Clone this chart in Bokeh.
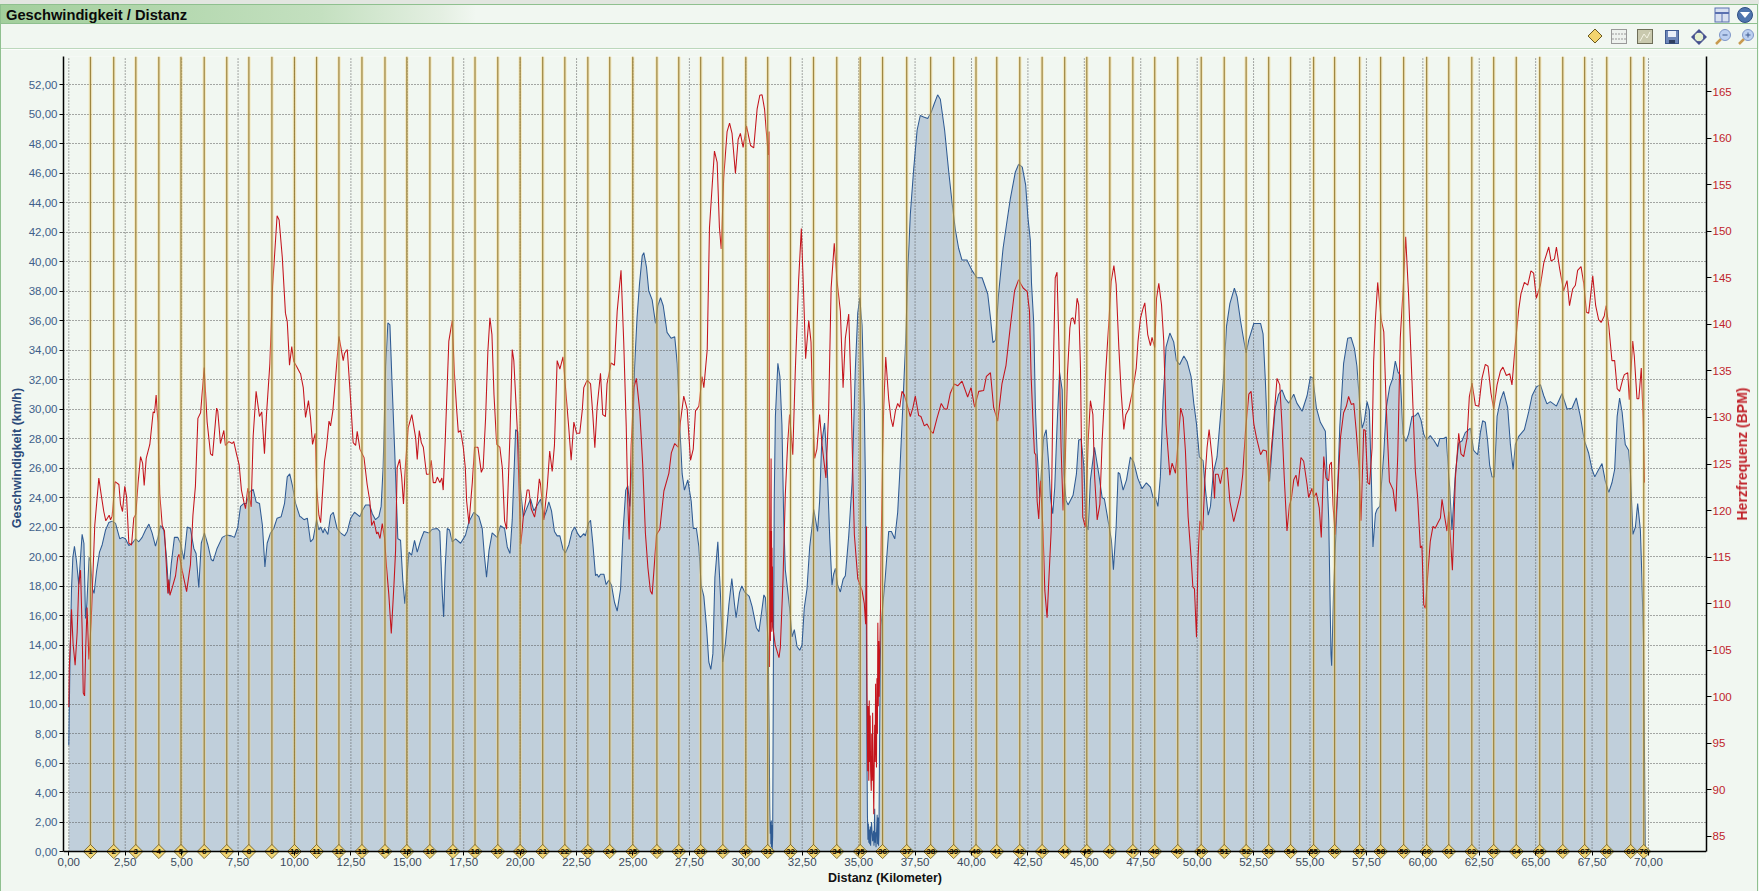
import math
from bokeh.embed import file_html
from bokeh.resources import INLINE
from bokeh.plotting import figure
from bokeh.layouts import column
from bokeh.core.properties import value
from bokeh.models import LinearAxis, Range1d, FixedTicker, Div

# ---------- data ----------
title_text = "Geschwindigkeit / Distanz"
x_label = "Distanz (Kilometer)"
y_label = "Geschwindigkeit (km/h)"
y2_label = "Herzfrequenz (BPM)"
x_ticks = [0, 2.5, 5, 7.5, 10, 12.5, 15, 17.5, 20, 22.5, 25, 27.5, 30, 32.5, 35, 37.5, 40, 42.5, 45, 47.5, 50, 52.5, 55, 57.5, 60, 62.5, 65, 67.5, 70]
y_ticks = [0, 2, 4, 6, 8, 10, 12, 14, 16, 18, 20, 22, 24, 26, 28, 30, 32, 34, 36, 38, 40, 42, 44, 46, 48, 50, 52]
y2_ticks = [85, 90, 95, 100, 105, 110, 115, 120, 125, 130, 135, 140, 145, 150, 155, 160, 165]
lap_numbers = list(range(1, 71))
lap_km = [0.96,1.99,2.97,3.99,4.97,6.0,7.0,7.98,9.0,10.0,10.98,11.97,12.99,14.01,14.98,16.0,17.02,18.0,19.01,20.0,
          21.0,21.98,23.0,23.97,24.99,26.06,27.03,28.0,28.98,30.0,30.97,31.98,33.0,34.03,35.07,36.06,37.13,38.19,39.21,40.2,
          41.12,42.14,43.13,44.13,45.11,46.13,47.15,48.12,49.14,50.18,51.2,52.17,53.17,54.14,55.16,56.09,57.2,58.13,59.15,60.17,
          61.15,62.17,63.14,64.14,65.18,66.2,67.17,68.15,69.21,69.79]

speed_a = [(0.00,7.2),(0.05,12.7),(0.12,17.8),(0.18,19.95),(0.25,20.7),(0.34,19.7),(0.44,18.1),(0.52,19.95),(0.59,21.5),(0.67,20.9),(0.74,15.8),(0.80,16.8),(0.90,19.95),(0.96,19.7),(1.05,17.8),(1.12,17.5),(1.23,19.0),(1.36,20.3),(1.48,20.8),(1.63,21.8),(1.77,22.3),(1.92,22.4),(2.07,22.25),(2.26,21.2),(2.38,21.3),(2.51,21.2),(2.66,20.75),(2.81,20.9),(2.96,21.2),(3.10,21.0),(3.25,21.3),(3.40,21.8),(3.55,22.2),(3.69,21.6),(3.84,20.7),(3.95,21.3),(4.06,22.1),(4.21,21.8),(4.33,19.95),(4.43,17.5),(4.54,19.5),(4.68,21.3),(4.83,21.3),(4.95,20.9),(5.10,19.8),(5.25,22.0),(5.39,21.9),(5.54,20.55),(5.64,20.2),(5.76,17.9),(5.87,20.9),(6.01,21.6),(6.16,20.8),(6.31,19.8),(6.40,19.7),(6.57,20.55),(6.80,21.3),(6.99,21.45),(7.20,21.4),(7.34,21.3),(7.49,22.0),(7.61,23.4),(7.76,23.6),(7.87,23.6),(8.02,24.4),(8.17,24.55),(8.30,23.7),(8.45,23.6),(8.58,22.1),(8.69,19.3),(8.79,20.9),(8.94,21.6),(9.08,21.9),(9.23,22.6),(9.41,22.7),(9.56,23.6),(9.68,25.4),(9.79,25.6),(9.91,24.8),(10.05,23.6),(10.24,22.7)]
speed_b = [(10.27,22.7),(10.42,22.5),(10.57,22.6),(10.71,21.0),(10.83,21.2),(10.98,22.5),(11.08,21.8),(11.16,22.0),(11.27,21.6),(11.33,21.9),(11.48,21.5),(11.60,22.8),(11.72,23.0),(11.89,21.9),(12.04,21.6),(12.22,21.4),(12.34,21.7),(12.49,22.6),(12.66,23.0),(12.90,22.7),(13.00,23.1),(13.15,23.5),(13.33,23.5),(13.45,22.9),(13.59,22.5),(13.74,22.7),(13.84,23.4),(13.93,26.1),(14.04,32.9),(14.14,35.85),(14.23,35.7),(14.33,31.5),(14.44,27.2),(14.52,23.8),(14.58,21.2),(14.70,21.1),(14.80,18.4),(14.89,16.8),(15.07,20.3),(15.19,20.1),(15.32,21.1),(15.44,20.3),(15.59,21.1),(15.74,21.7),(15.96,21.6),(16.10,21.85),(16.33,21.9),(16.44,21.7),(16.55,17.5),(16.61,15.9),(16.68,19.3),(16.77,21.9),(16.87,21.8),(16.99,21.0),(17.14,21.2),(17.36,20.9),(17.58,21.45),(17.73,22.35),(17.95,23.0),(18.17,22.7),(18.32,21.9),(18.42,20.0),(18.51,18.6),(18.62,20.4),(18.76,21.6),(18.98,21.3),(19.13,22.1),(19.31,21.9),(19.43,20.65),(19.55,20.2),(19.65,22.5),(19.80,28.6),(19.90,28.45),(19.99,24.95),(20.14,22.7),(20.46,23.9),(20.61,23.1),(20.76,23.5),(20.91,23.9)]
speed_c = [(21.05,22.6),(21.17,23.1),(21.27,23.7),(21.39,23.1),(21.52,21.7),(21.64,21.4),(21.76,21.4),(21.90,20.5),(22.01,20.25),(22.16,20.8),(22.30,21.7),(22.42,22.0),(22.55,21.55),(22.67,21.3),(22.82,21.55),(22.89,21.4),(23.04,22.3),(23.12,22.45),(23.22,20.9),(23.34,18.7),(23.41,18.8),(23.48,18.6),(23.56,18.8),(23.71,18.8),(23.81,18.1),(23.93,18.4),(24.05,18.05),(24.18,16.9),(24.30,16.3),(24.45,17.8),(24.56,21.7),(24.68,24.5),(24.77,24.8),(24.86,23.4),(24.96,26.35),(25.07,32.8),(25.18,36.2),(25.29,38.5),(25.41,40.4),(25.48,40.6),(25.60,39.6),(25.70,38.0),(25.85,37.4),(26.00,35.8),(26.10,37.0),(26.22,37.55),(26.34,37.0),(26.51,35.2),(26.69,34.8),(26.85,34.9),(26.96,33.1),(27.07,28.95),(27.18,25.6),(27.28,24.5),(27.43,25.2),(27.58,23.75),(27.67,21.9),(27.81,21.9),(27.92,20.65),(28.02,18.05),(28.14,17.3),(28.26,15.2),(28.36,12.85),(28.45,12.35),(28.54,13.4),(28.63,18.6),(28.76,21.0),(28.88,17.3),(28.98,12.85),(29.10,14.15),(29.25,16.75),(29.38,18.5),(29.50,16.75),(29.57,15.85),(29.72,17.55),(29.82,18.0),(29.97,17.55),(30.15,17.3),(30.28,16.6),(30.47,15.15),(30.58,14.9),(30.68,16.0),(30.80,17.4),(30.87,17.2),(30.99,14.15)]
speed_d = [(31.03,9),(31.06,3),(31.08,1.2),(31.10,2.0),(31.11,0.5),(31.13,2.1),(31.14,0.3),(31.16,1.8),(31.17,0.1),(31.19,1.0),(31.22,12),(31.26,24),(31.31,29.5),(31.42,33.1),(31.51,32.2),(31.60,28.95),(31.68,22.45),(31.75,19.1),(31.83,18.05),(31.94,16.5),(32.05,14.55),(32.15,15.05),(32.27,13.9),(32.39,13.65),(32.49,14.0),(32.59,16.5),(32.71,17.8),(32.83,20.65),(32.93,21.95),(33.01,23.2),(33.18,21.7),(33.27,23.75),(33.36,27.65),(33.49,29.05),(33.60,26.35),(33.72,21.2),(33.82,18.05),(33.89,18.8),(33.97,19.2),(34.07,18.05),(34.19,17.6),(34.31,18.45),(34.41,18.7),(34.56,21.4),(34.71,25.05),(34.85,32.6),(34.96,36.5),(35.05,37.55),(35.15,35.7),(35.25,30.2),(35.30,25.05),(35.34,16),(35.37,6),(35.39,2.4),(35.41,0.8),(35.43,1.9),(35.45,0.6),(35.47,1.5),(35.49,0.5),(35.51,1.7),(35.53,0.4),(35.55,1.2),(35.57,2.0),(35.62,0.7),(35.66,1.4),(35.68,0.4),(35.71,2.9),(35.73,0.6),(35.75,1.3),(35.77,0.3),(35.80,1.6),(35.82,2.5),(35.84,0.5),(35.86,2.3),(35.88,0.4),(35.90,1.2),(35.93,8),(35.96,13),(35.99,15.3)]
speed_e = [(36.18,18.6),(36.33,21.7),(36.45,21.7),(36.60,21.2),(36.73,23.0),(36.82,25.6),(36.92,28.95),(37.07,34.1),(37.19,39.8),(37.29,43.2),(37.44,46.3),(37.59,48.9),(37.73,49.9),(37.88,49.8),(38.06,49.7),(38.21,50.1),(38.35,50.7),(38.50,51.3),(38.62,51.0),(38.81,48.9),(38.99,46.1),(39.14,44.0),(39.28,42.2),(39.43,40.9),(39.58,40.1),(39.80,40.1),(40.02,39.4),(40.24,38.9),(40.47,38.9),(40.72,37.8),(40.84,36.2),(40.95,34.5),(41.06,34.65),(41.20,37.8),(41.40,40.9),(41.57,42.7),(41.72,44.25),(41.94,46.05),(42.09,46.6),(42.25,46.4),(42.40,45.2),(42.50,43.0),(42.61,41.4),(42.66,38.5),(42.76,35.8),(42.83,30.1),(42.91,27.0),(43.03,24.0),(43.09,25.6),(43.20,28.1),(43.31,28.6),(43.43,26.1),(43.50,24.0),(43.60,22.9),(43.69,24.7),(43.79,28.8),(43.90,32.5),(44.02,31.3),(44.09,25.6),(44.19,23.8),(44.28,23.5),(44.50,24.15),(44.65,25.6),(44.75,27.9),(44.86,27.95),(44.98,26.1),(45.08,22.2),(45.17,21.8),(45.27,25.2),(45.45,27.4),(45.64,25.6),(45.79,24.0),(45.89,23.9),(46.08,22.2),(46.20,21.1),(46.29,19.1),(46.41,22.0),(46.50,25.7),(46.57,25.6),(46.72,24.5),(46.87,25.2),(47.04,26.75),(47.19,26.4),(47.37,25.3),(47.56,24.6),(47.75,25.0),(47.93,24.7),(48.05,24.0),(48.15,24.0),(48.26,23.4),(48.37,25.4),(48.49,30.6),(48.62,34.2),(48.79,35.15),(48.96,34.55),(49.08,33.3),(49.22,33.0),(49.41,33.6),(49.56,33.2),(49.73,32.2),(49.85,30.4),(49.97,29.0),(50.10,26.75),(50.26,26.5),(50.37,24.5),(50.49,22.8),(50.59,23.4),(50.71,25.6),(50.88,26.75),(51.03,29.45),(51.18,32.4),(51.30,35.6),(51.45,37.15),(51.65,38.2),(51.77,37.6),(51.92,36.0),(52.04,34.9),(52.17,33.8),(52.29,34.7),(52.51,35.8),(52.81,35.8)]
speed_f = [(52.92,35.1),(53.02,32.0),(53.12,28.1),(53.21,25.1),(53.32,27.4),(53.46,30.1),(53.61,31.0),(53.76,31.3),(53.91,30.7),(54.06,30.4),(54.28,31.0),(54.42,30.4),(54.65,29.85),(54.87,30.9),(55.02,32.2),(55.13,32.1),(55.28,30.1),(55.46,29.1),(55.68,28.5),(55.83,22.5),(55.93,13.4),(55.96,12.6),(56.05,17.9),(56.20,23.6),(56.32,28.8),(56.49,33.1),(56.67,34.8),(56.82,34.85),(56.97,34.1),(57.08,32.9),(57.20,30.4),(57.31,28.7),(57.41,29.2),(57.53,30.5),(57.63,29.9),(57.72,25.2),(57.79,20.65),(57.90,22.9),(57.97,23.2),(58.09,23.4),(58.27,27.0),(58.38,30.1),(58.53,31.5),(58.66,32.05),(58.78,33.25),(58.90,32.5),(59.00,32.3),(59.12,28.3),(59.25,27.8),(59.37,28.3),(59.52,29.5),(59.67,29.55),(59.79,29.75),(59.92,29.25),(60.04,28.3),(60.16,27.9),(60.33,28.2),(60.48,27.9),(60.66,27.45),(60.75,28.0),(60.92,28.0),(61.04,28.1),(61.15,25.4),(61.19,24.7),(61.29,21.8),(61.44,25.6),(61.59,27.7),(61.74,27.85),(61.88,28.4),(62.11,28.7),(62.25,27.2),(62.43,26.9),(62.55,28.4),(62.65,29.2),(62.77,29.1),(62.87,27.85),(62.96,26.2),(63.07,25.4),(63.17,25.4),(63.29,29.5),(63.44,30.6),(63.58,31.2),(63.76,30.1),(63.88,27.6),(64.00,25.9),(64.10,27.6),(64.25,28.15),(64.50,28.6),(64.69,29.8),(64.84,30.9),(65.03,31.5),(65.21,31.65),(65.36,30.9),(65.50,30.35),(65.65,30.5),(65.92,30.2),(66.17,31.05),(66.39,30.0),(66.61,30.05),(66.80,30.75),(66.98,29.5),(67.16,27.85),(67.35,27.0),(67.50,25.9),(67.62,25.4),(67.79,25.9),(67.94,26.3),(68.09,25.1),(68.24,24.35),(68.38,25.0),(68.50,25.9),(68.61,29.5),(68.72,30.75),(68.83,29.8),(68.97,27.6),(69.12,27.2),(69.20,25.65),(69.31,21.5),(69.42,22.0),(69.52,23.6),(69.64,21.8),(69.71,18.45),(69.78,14.0),(69.86,0.0)]

hr_a = [(0.00,98.9),(0.02,103),(0.08,106.5),(0.12,109.4),(0.19,105.7),(0.28,103.4),(0.37,106.9),(0.44,112),(0.52,113.6),(0.59,107.3),(0.64,100.4),(0.70,100.1),(0.75,105.3),(0.81,109.6),(0.89,104),(0.99,108),(1.15,118.4),(1.33,123.5),(1.43,121.8),(1.55,119.9),(1.64,118.9),(1.79,119.5),(1.85,119),(1.92,119.4),(2.05,123.1),(2.22,122.8),(2.29,120.7),(2.38,119.9),(2.48,122.6),(2.56,121.5),(2.66,116.5),(2.78,116.3),(2.88,119.2),(2.97,119.6),(3.07,123),(3.18,125.8),(3.27,125.1),(3.34,122.7),(3.43,125.6),(3.59,127.1),(3.74,130.6),(3.80,130.5),(3.87,132.4),(3.95,129.5),(4.03,121.8),(4.14,118.4),(4.24,117.8),(4.39,111.1),(4.43,112.6),(4.48,110.9),(4.58,111.7),(4.73,113),(4.83,115),(4.89,115.3),(5.02,113.6),(5.22,111.3),(5.39,114.2),(5.50,119.5),(5.61,122.6),(5.72,129.9),(5.84,130.5),(6.00,135.35),(6.13,129.5),(6.28,126.1),(6.37,125.9),(6.55,131),(6.60,130.7),(6.72,127.2),(6.87,128.6),(6.94,127),(7.09,127.4),(7.24,127.2),(7.31,127.4),(7.43,126.1),(7.55,124.9),(7.65,122.2),(7.76,120.9),(7.83,120.2),(7.93,122.4),(8.08,120.4),(8.17,128),(8.30,132.8),(8.45,130.1),(8.55,130.6),(8.67,126.1),(8.76,130.3),(8.91,135.8),(9.03,144.1),(9.23,151.65),(9.32,151.2),(9.46,147.2),(9.60,141.2),(9.68,140.3),(9.78,135.6),(9.88,137.6),(9.97,136),(10.09,135.5),(10.24,134.8)]
hr_b = [(10.27,134.7),(10.39,133.2),(10.49,130),(10.62,131.8),(10.71,130),(10.80,127.1),(10.92,128.3),(10.98,122.5),(11.08,119.5),(11.16,118.7),(11.33,125.3),(11.42,126.8),(11.53,129.6),(11.60,129.1),(11.70,130.7),(11.97,138.7),(12.16,136.1),(12.22,136.9),(12.34,137.3),(12.49,131.8),(12.60,127.3),(12.71,127),(12.78,128.5),(12.90,126.6),(13.08,125.7),(13.22,122.8),(13.34,121),(13.42,118.4),(13.52,118.9),(13.64,117.5),(13.70,117.7),(13.79,117),(13.89,118.6),(13.99,117.1),(14.08,113.9),(14.18,111),(14.29,106.8),(14.41,112.1),(14.48,115.7),(14.55,124.6),(14.66,125.5),(14.75,123.6),(14.83,120.7),(14.92,125),(15.04,128.9),(15.20,130.3),(15.37,127.8),(15.44,125.5),(15.53,128.6),(15.62,127.3),(15.71,126.8),(15.85,123.9),(15.97,123.9),(16.06,125.4),(16.15,123),(16.25,123),(16.33,123.6),(16.44,123),(16.53,123.5),(16.59,122.2),(16.68,127.5),(16.84,138.2),(16.99,140.4),(17.09,134.6),(17.18,131.1),(17.26,128.4),(17.36,128.6),(17.48,126.8),(17.57,124.6),(17.63,121),(17.73,118.6),(17.88,123),(17.98,126.8),(18.13,126.8),(18.28,124.1),(18.36,124.6),(18.47,130),(18.57,137.1),(18.66,140.7),(18.75,138.9),(18.84,132.5),(18.96,127.1),(19.10,126.8),(19.21,124.6),(19.31,118.9),(19.40,118),(19.55,128.2),(19.65,137.3),(19.72,136.1),(19.87,128.9),(19.97,121),(20.03,116.4),(20.14,119.3),(20.31,122.2),(20.39,122.2),(20.49,120.2),(20.64,119.3),(20.76,121),(20.85,123.4)]
hr_c = [(20.90,122.9),(21.05,119),(21.20,122.5),(21.31,126.4),(21.42,124.2),(21.52,127),(21.64,136.1),(21.76,135.2),(21.90,136.5),(22.05,132),(22.16,128.7),(22.26,125.4),(22.38,129.5),(22.50,128.3),(22.64,128.3),(22.75,130.7),(22.82,133.2),(22.97,134),(23.12,133.6),(23.22,130.3),(23.31,126.75),(23.41,131.1),(23.56,134.75),(23.66,130.3),(23.78,130.1),(23.85,133.6),(24.03,135.85),(24.18,135.6),(24.30,141.4),(24.47,145.8),(24.59,138.1),(24.70,129.1),(24.77,120.9),(24.83,116.9),(24.92,127),(25.04,133.2),(25.15,134.2),(25.30,130.7),(25.43,125),(25.55,117.6),(25.66,113.9),(25.77,111.4),(25.85,111),(25.95,114.3),(26.04,117.4),(26.19,118),(26.37,122.1),(26.59,124),(26.70,126.2),(26.85,127.2),(27.00,126.8),(27.10,129.5),(27.25,132.3),(27.40,130.9),(27.55,125.4),(27.67,126.6),(27.77,130.7),(27.92,131.2),(28.06,134.4),(28.14,133.2),(28.29,137.3),(28.39,150.4),(28.51,154.9),(28.61,158.6),(28.73,157.4),(28.83,150.4),(28.91,148.1),(29.02,155.75),(29.17,160.7),(29.28,161.6),(29.39,160.5),(29.54,156.2),(29.66,159.85),(29.76,160.5),(29.88,159),(30.03,161.3),(30.21,159.2),(30.35,158.95),(30.50,163.1),(30.62,164.6),(30.72,164.65),(30.83,163.1),(30.99,158.2),(31.03,160.7)]
hr_d = [(31.05,103.2),(31.07,117.8),(31.09,106),(31.10,117),(31.12,125.6),(31.13,108),(31.14,117.8),(31.15,107),(31.16,116),(31.17,108.5),(31.18,114),(31.20,107.5),(31.30,105.6),(31.47,104.2),(31.53,105.3),(31.65,112.7),(31.75,121.7),(31.85,127),(31.94,130.3),(32.08,126),(32.19,134.8),(32.34,144.7),(32.46,150.3),(32.56,143.4),(32.65,136.3),(32.79,140.4),(32.89,138.1),(32.96,131.1),(33.05,125.6),(33.15,126.6),(33.27,130.3),(33.38,127),(33.55,123.5),(33.67,130.7),(33.78,143.9),(33.92,148.7),(34.04,144.7),(34.19,141.4),(34.31,133.2),(34.41,138.5),(34.56,141.1),(34.66,133.2),(34.75,122.9),(34.81,117.4),(34.96,112.7),(35.15,111.4),(35.25,110),(35.31,107.8),(35.35,118.3),(35.37,100.6),(35.40,92),(35.42,99),(35.45,91),(35.47,99.6),(35.49,93),(35.51,98),(35.53,92),(35.56,89.9),(35.58,96),(35.60,91),(35.62,98.3),(35.64,93),(35.67,87.4),(35.69,92.8),(35.71,97),(35.73,93),(35.75,101.4),(35.77,95),(35.79,92.4),(35.81,102),(35.83,96),(35.85,107.95),(35.87,99),(35.89,106),(35.91,100),(35.93,103.1),(35.95,107),(35.97,109.6)]
hr_e = [(36.00,116.8),(36.06,125.8),(36.11,131.1),(36.20,136.5),(36.33,132),(36.43,129.9),(36.52,129),(36.63,130.7),(36.73,131.5),(36.82,131.1),(36.92,132.8),(37.03,132.4),(37.22,130.7),(37.29,130.1),(37.41,131.1),(37.51,132.3),(37.66,130.2),(37.76,130.1),(37.91,129.1),(38.03,129.3),(38.21,128.5),(38.30,128.3),(38.47,129.9),(38.66,131.5),(38.80,130.9),(38.92,130.9),(39.06,132.6),(39.24,133.6),(39.39,133.4),(39.58,133.9),(39.83,132.2),(39.98,133.2),(40.14,131.1),(40.32,132.8),(40.54,132.9),(40.66,134.4),(40.84,134.8),(40.98,131.1),(41.16,129.6),(41.35,133.6),(41.53,135.6),(41.72,139.75),(41.91,143.6),(42.09,144.8)]
hr_f = [(42.17,144.4),(42.29,143.9),(42.47,143.5),(42.57,141.4),(42.64,134.6),(42.73,129.3),(42.79,126.2),(42.85,126),(42.91,121),(42.98,119.1),(43.06,123.2),(43.17,117.8),(43.25,111.4),(43.35,108.5),(43.44,113.2),(43.53,117.8),(43.62,134.6),(43.71,145),(43.79,145.6),(43.87,138.2),(43.97,126.8),(44.06,120),(44.16,125.7),(44.25,134.6),(44.36,139.6),(44.42,140.6),(44.50,140.7),(44.58,140),(44.68,142.8),(44.75,142.1),(44.83,135.3),(44.87,127.5),(44.93,119.3),(45.05,118.2),(45.17,127.5),(45.27,131.8),(45.38,130.3),(45.45,123.9),(45.57,119),(45.69,120.7),(45.79,127.5),(45.94,134.6),(46.08,140),(46.19,144.6),(46.31,146.3),(46.41,144.3),(46.53,137.5),(46.63,132.8),(46.75,128.7),(46.84,130.3),(46.97,130.9),(47.15,133),(47.30,135.3),(47.38,138.2),(47.49,140.7),(47.59,141.6),(47.68,142.3),(47.81,138.9),(47.93,137.7),(48.00,138.6),(48.12,137.5),(48.20,142.8),(48.30,144.4),(48.42,142.1),(48.52,138.2),(48.62,129.3),(48.79,123.8),(48.89,125.1),(49.04,124),(49.16,127.5),(49.27,131),(49.38,130),(49.48,126.4),(49.60,119.3),(49.73,115),(49.81,111.8),(49.88,111.6),(49.97,106.4),(50.04,115),(50.12,118.9),(50.25,117.9),(50.34,123.2),(50.44,126.8),(50.53,128.7),(50.66,125.7),(50.77,121.3),(50.81,123.9),(50.93,123.9),(51.03,122.9),(51.14,124.3),(51.33,124.6),(51.45,121),(51.62,118.8),(51.77,120.3),(51.92,121.8),(52.02,123.9),(52.14,128.5),(52.29,132.5),(52.39,132.8),(52.51,129.3),(52.63,127.8),(52.81,126)]
hr_g = [(52.92,126.5),(53.07,126.4),(53.18,123.1),(53.29,126.7),(53.39,129.6),(53.54,134.2),(53.66,133.5),(53.75,129.6),(53.86,123.5),(53.98,117.8),(54.09,120.6),(54.17,121.2),(54.28,123.3),(54.38,123.8),(54.47,122.6),(54.60,125.7),(54.72,125.3),(54.87,122.8),(54.94,121.4),(55.09,122.4),(55.16,121.4),(55.28,121.9),(55.41,120.3),(55.50,117.1),(55.61,125.8),(55.71,123.5),(55.83,123.2),(55.87,124.9),(55.95,125.2),(56.02,120.6),(56.11,117.4),(56.23,122.4),(56.35,127.8),(56.49,130.5),(56.61,131.2),(56.71,132.25),(56.83,131.4),(56.94,131.5),(57.05,128.5),(57.17,124.6),(57.26,118.9),(57.38,128.7),(57.45,128.6),(57.56,123),(57.64,122.8),(57.75,126.7),(57.82,136),(57.90,140.6),(58.00,144.5),(58.15,140.6),(58.27,139.2),(58.38,131),(58.52,123.1),(58.68,122.25),(58.80,119.9),(58.89,126),(59.00,138.5),(59.12,143.5),(59.24,149.4),(59.37,143.1),(59.52,133.9),(59.67,124.2),(59.77,121.4),(59.89,116),(59.96,116.2),(60.04,109.9),(60.11,109.5),(60.23,113.5),(60.33,116.7),(60.45,118.3),(60.55,118.1),(60.67,118.7),(60.78,119.2),(60.85,121.2),(60.95,119.6),(61.07,117.8),(61.15,119.9),(61.25,116),(61.31,113.6),(61.44,123.4),(61.59,128.3),(61.69,126.1),(61.81,125.8),(61.96,127.8),(62.06,132.2),(62.18,133.7),(62.33,131.3),(62.48,131.2),(62.62,134.2),(62.77,135.7),(62.89,135.5),(63.02,132.6),(63.14,130.9),(63.29,133.5),(63.44,135),(63.55,135.4),(63.70,134.5),(63.85,134.7),(63.95,133.5),(64.10,137.9),(64.25,141.6),(64.35,143.3),(64.50,144.5),(64.65,144.2),(64.79,145.75),(64.91,145.5),(65.03,142.8),(65.21,144.2),(65.36,146.6),(65.58,148.3),(65.68,146.8),(65.83,147),(65.92,148.3),(66.06,146),(66.24,143.6),(66.39,144.7),(66.50,142),(66.64,143.8),(66.76,144.2),(66.86,145.8),(67.01,146.2),(67.13,144.4),(67.25,141.3),(67.35,141.2),(67.53,145.2),(67.66,142),(67.79,140.5),(67.90,140.2),(68.04,140.9),(68.12,142),(68.24,139.8),(68.38,136.1),(68.50,136.1),(68.61,133.1),(68.72,132.8),(68.87,134.2),(68.93,134.6),(69.08,134.8),(69.15,131.9),(69.30,138.2),(69.37,136.6),(69.49,132),(69.57,132),(69.68,135.3),(69.76,130),(69.82,123)]

speed_pts = speed_a + speed_b + speed_c + speed_d + speed_e + speed_f
hr_pts = hr_a + hr_b + hr_c + hr_d + hr_e + hr_f + hr_g
speed_km, speed_val = [p[0] for p in speed_pts], [p[1] for p in speed_pts]
hr_km, hr_val = [p[0] for p in hr_pts], [p[1] for p in hr_pts]

# ---------- layout constants ----------
W, H, HEAD = 1759, 891, 49
BG = "#f1f7f1"
X_MIN, X_MAX = -0.235, 72.57
Y_MIN, Y_MAX = -0.54, 53.9
Y2_MIN, Y2_MAX = 82.53, 168.76
Y2_BOTTOM = 83.39
BLUE_TXT = "#3f5f8a"
RED_TXT = "#c0242b"
FONT = "Liberation Sans"

p = figure(width=W, height=H - HEAD, output_backend="svg", toolbar_location=None,
           x_range=Range1d(X_MIN, X_MAX), y_range=Range1d(Y_MIN, Y_MAX),
           min_border_left=63, min_border_right=53, min_border_top=56 - HEAD, min_border_bottom=32,
           background_fill_color=BG, border_fill_color=BG, outline_line_color=None)
p.extra_y_ranges = {"hr": Range1d(Y2_MIN, Y2_MAX)}

# x axis: line and ticks sit at y = 0, below the frame's bottom edge holds the diamonds
ax = p.xaxis[0]
ax.ticker = FixedTicker(ticks=x_ticks)
ax.fixed_location = 0
ax.major_label_text_font_size = "0px"
ax.major_label_text_color = None
ax.major_label_standoff = 0
ax.major_tick_in = 0
ax.major_tick_out = 4
ax.minor_tick_line_color = None
ax.axis_line_color = "black"
ax.axis_line_width = 1.5
ax.major_tick_line_color = "black"

# second x axis carries the tick labels and the axis title under the frame
ax2 = LinearAxis(ticker=FixedTicker(ticks=x_ticks),
                 major_label_overrides={t: f"{t:.2f}".replace(".", ",") for t in x_ticks},
                 axis_line_color=None, major_tick_line_color=None, minor_tick_line_color=None,
                 major_tick_in=0, major_tick_out=0, major_label_standoff=-2,
                 major_label_text_font=FONT, major_label_text_font_size="11.5px",
                 major_label_text_color="#3a4a5c",
                 axis_label=x_label, axis_label_standoff=2, axis_label_text_font=FONT,
                 axis_label_text_font_style="bold", axis_label_text_font_size="12.5px",
                 axis_label_text_color="#111111")
p.add_layout(ax2, "below")

ay = p.yaxis[0]
ay.ticker = FixedTicker(ticks=y_ticks)
ay.major_label_overrides = {t: f"{t:.2f}".replace(".", ",") for t in y_ticks}
ay.bounds = (0, Y_MAX)
ay.axis_label = y_label
ay.axis_label_text_font = FONT
ay.axis_label_text_font_style = "bold"
ay.axis_label_text_font_size = "12.5px"
ay.axis_label_text_color = "#2b4a7a"
ay.axis_label_standoff = 2
ay.major_label_text_font = FONT
ay.major_label_text_font_size = "11.5px"
ay.major_label_text_color = BLUE_TXT
ay.major_label_standoff = 2
ay.major_tick_in = 0
ay.major_tick_out = 4
ay.minor_tick_line_color = None
ay.axis_line_color = "black"
ay.axis_line_width = 1.5

ar = LinearAxis(y_range_name="hr", ticker=FixedTicker(ticks=y2_ticks),
                bounds=(Y2_BOTTOM, Y2_MAX), major_label_text_font=FONT,
                major_label_text_font_size="11.5px", major_label_text_color=RED_TXT,
                major_label_standoff=1, major_tick_in=0, major_tick_out=5,
                minor_tick_line_color=None, axis_line_color="black", axis_line_width=1.5)
p.add_layout(ar, "right")

# grid
p.xgrid.visible = False
p.ygrid.ticker = FixedTicker(ticks=y_ticks[1:])
p.ygrid.grid_line_color = "#555555"
p.ygrid.grid_line_dash = "1 2"
p.ygrid.grid_line_width = 1
p.segment(x0=x_ticks, x1=x_ticks, y0=[0]*len(x_ticks), y1=[Y_MAX]*len(x_ticks),
          line_color="#555555", line_dash="1 2", line_width=1, level="underlay")

# speed area and lines
p.varea(x=speed_km, y1=[0]*len(speed_km), y2=speed_val, fill_color="#c0cfdb", level="image")
p.line(speed_km, speed_val, line_color="#2f5b93", line_width=1.05)
p.line(hr_km, hr_val, y_range_name="hr", line_color="#c4141c", line_width=1.05)

# laps
n = len(lap_km)
p.segment(x0=lap_km, x1=lap_km, y0=[0]*n, y1=[Y_MAX]*n, line_color="#f7d680", line_width=3.6, line_alpha=0.4)
p.segment(x0=lap_km, x1=lap_km, y0=[0]*n, y1=[Y_MAX]*n, line_color="#957b34", line_width=1.25, line_alpha=0.9)
p.scatter(x=lap_km, y=[0]*n, marker="square", angle=math.pi / 4, size=10, fill_color="#f2d675", line_color="#6a5518", line_width=0.8)
p.text(x=lap_km, y=[0]*n, text=[str(v) for v in lap_numbers], text_align="center", text_baseline="middle",
       text_font=value(FONT), text_font_size="8px", text_font_style="bold", text_color="#1a1200")

# ---------- window chrome (header panel above the figure) ----------
icons = """
<svg width="1759" height="49" style="position:absolute;left:0;top:0" xmlns="http://www.w3.org/2000/svg">
<rect x="1715" y="8" width="14" height="14" fill="#d8e0f0" stroke="#5a70b0"/><line x1="1715" y1="13" x2="1729" y2="13" stroke="#5a70b0" stroke-width="2"/><line x1="1722" y1="13" x2="1722" y2="22" stroke="#5a70b0"/>
<circle cx="1745" cy="15" r="7.5" fill="#4f74ad" stroke="#2f4f85"/><path d="M1740 12 h10 l-5 6 z" fill="#fff"/>
<path d="M1595 29 l7 7 l-7 7 l-7 -7 z" fill="#f2d46e" stroke="#6b5a20"/>
<rect x="1611.5" y="29.5" width="15" height="14" fill="#eef2ee" stroke="#9a9a9a"/><line x1="1612" y1="34" x2="1626" y2="34" stroke="#9a9a9a" stroke-dasharray="2 1"/><line x1="1612" y1="39" x2="1626" y2="39" stroke="#9a9a9a" stroke-dasharray="2 1"/>
<rect x="1637.5" y="29.5" width="15" height="14" fill="#c9c9ae" stroke="#6e6e58"/><path d="M1640 41 l4 -7 l3 4 l3 -6" fill="none" stroke="#f4f4e4"/>
<rect x="1665.5" y="30.5" width="13" height="13" fill="#6d86b8" stroke="#3f5a90"/><rect x="1668" y="31" width="8" height="6" fill="#e8eef8"/><rect x="1669" y="40" width="6" height="3.5" fill="#2f3f60"/>
<path d="M1699 29 l8 8 l-8 8 l-8 -8 z" fill="#47518f"/><circle cx="1699" cy="37" r="4.8" fill="#e6f0d0" stroke="#47518f"/>
<line x1="1716" y1="44" x2="1721" y2="39" stroke="#c89a50" stroke-width="2.5"/><circle cx="1725" cy="35" r="5.5" fill="#bcd0f0" stroke="#7f96c8"/><line x1="1722.5" y1="35" x2="1727.5" y2="35" stroke="#3f5a90"/>
<line x1="1739" y1="44" x2="1744" y2="39" stroke="#c89a50" stroke-width="2.5"/><circle cx="1748" cy="35" r="5.5" fill="#bcd0f0" stroke="#7f96c8"/><line x1="1745.5" y1="35" x2="1750.5" y2="35" stroke="#3f5a90"/><line x1="1748" y1="32.5" x2="1748" y2="37.5" stroke="#3f5a90"/>
</svg>
"""
header_html = f"""
<div style="position:relative;width:{W}px;height:{HEAD}px;background:{BG};overflow:hidden">
<div style="position:absolute;left:0;top:0;width:{W}px;height:4px;background:#e2e6e0"></div>
<div style="position:absolute;left:1px;top:4px;width:{W-3}px;height:20px;border-top:1px solid #8fc08f;border-bottom:1px solid #8fc08f;
background:linear-gradient(to right,#a2cf9c 0,#c4e0c0 320px,#e4efe2 440px,{BG} 475px)"></div>
<div style="position:absolute;left:0;top:4px;width:1px;height:45px;background:#8fc08f"></div>
<div style="position:absolute;left:{W-2}px;top:4px;width:1px;height:45px;background:#8fc08f"></div>
<div style="position:absolute;left:1px;top:48px;width:{W-3}px;height:1px;background:#bcd8bc"></div>
<div style="position:absolute;left:6px;top:5px;height:20px;font:bold 14.7px '{FONT}';line-height:20px;color:#0a0a0a">{title_text}</div>
{icons}
<div style="position:fixed;left:0;top:{HEAD}px;width:1px;height:{H-HEAD}px;background:#8fc08f;z-index:5"></div>
<div style="position:fixed;left:{W-2}px;top:{HEAD}px;width:1px;height:{H-HEAD}px;background:#8fc08f;z-index:5"></div>
<div style="position:fixed;left:1742px;top:454px;transform:translate(-50%,-50%) rotate(-90deg);white-space:nowrap;font:bold 14px '{FONT}';color:{RED_TXT};z-index:5">{y2_label}</div>
</div>
"""
header = Div(text=header_html, width=W, height=HEAD, margin=(0, 0, 0, 0))

layout = column(header, p, spacing=0, margin=(0, 0, 0, 0))
open("out.html", "w").write(file_html(layout, INLINE))
